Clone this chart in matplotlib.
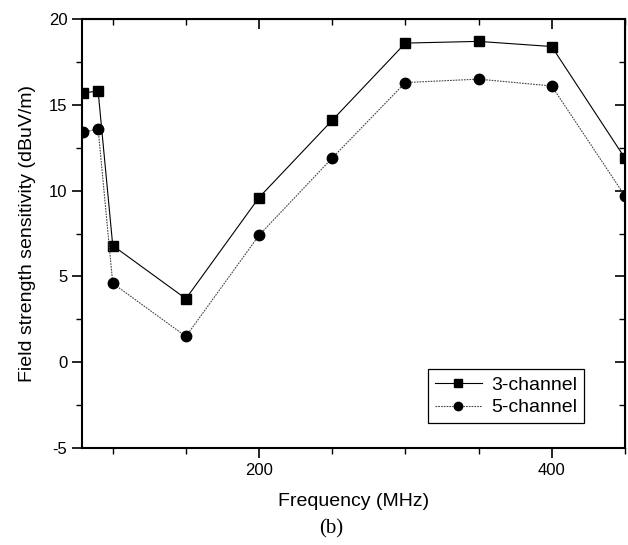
import matplotlib
matplotlib.use("Agg")
import matplotlib.pyplot as plt
from matplotlib.ticker import MultipleLocator

# data
freq = [80, 90, 100, 150, 200, 250, 300, 350, 400, 450]
ch3 = [15.7, 15.8, 6.8, 3.7, 9.6, 14.1, 18.6, 18.7, 18.4, 11.9]
ch5 = [13.4, 13.6, 4.6, 1.5, 7.4, 11.9, 16.3, 16.5, 16.1, 9.7]

plt.rcParams['font.family'] = ['Liberation Sans', 'DejaVu Sans']
plt.rcParams['axes.unicode_minus'] = False

fig = plt.figure(figsize=(6.28, 5.45), dpi=100)
ax = fig.add_axes([0.1306, 0.178, 0.8644, 0.787])

ax.plot(freq, ch3, color='black', lw=0.8, marker='s', ms=6.5, label='3-channel')
ax.plot(freq, ch5, color='#444444', lw=0.8, ls=(0, (1.5, 1)), marker='o', ms=7.5,
        mfc='black', mec='black', label='5-channel')

ax.set_xlim(79, 450)
ax.set_ylim(-5, 20)
ax.xaxis.set_major_locator(MultipleLocator(200))
ax.xaxis.set_minor_locator(MultipleLocator(50))
ax.yaxis.set_major_locator(MultipleLocator(5))
ax.yaxis.set_minor_locator(MultipleLocator(2.5))
ax.tick_params(which='major', direction='out', length=7, width=1.2, labelsize=12)
ax.tick_params(which='minor', direction='out', length=4, width=1.0)
for s in ax.spines.values():
    s.set_linewidth(1.5)

# mirrored ticks on top and right pointing inwards
top = ax.secondary_xaxis('top')
top.xaxis.set_major_locator(MultipleLocator(200))
top.xaxis.set_minor_locator(MultipleLocator(50))
top.tick_params(which='major', direction='in', length=7, width=1.2, labeltop=False)
top.tick_params(which='minor', direction='in', length=4, width=1.0)
right = ax.secondary_yaxis('right')
right.yaxis.set_major_locator(MultipleLocator(5))
right.yaxis.set_minor_locator(MultipleLocator(2.5))
right.tick_params(which='major', direction='in', length=7, width=1.2, labelright=False)
right.tick_params(which='minor', direction='in', length=4, width=1.0)

ax.set_xlabel('Frequency (MHz)', fontsize=14, labelpad=11)
ax.set_ylabel('Field strength sensitivity (dBuV/m)', fontsize=14, labelpad=9)

leg = ax.legend(loc='lower right', bbox_to_anchor=(0.925, 0.058), fontsize=14,
                frameon=True, fancybox=False, edgecolor='black', framealpha=1,
                handlelength=2.4, borderpad=0.35, labelspacing=0.25, handletextpad=0.5,
                markerscale=0.8, borderaxespad=0)
leg.get_frame().set_linewidth(0.9)

fig.text(0.527, 0.03, '(b)', family=['Liberation Serif', 'DejaVu Serif'],
         fontsize=15, ha='center', va='center')

fig.savefig('out.png', dpi=100)
